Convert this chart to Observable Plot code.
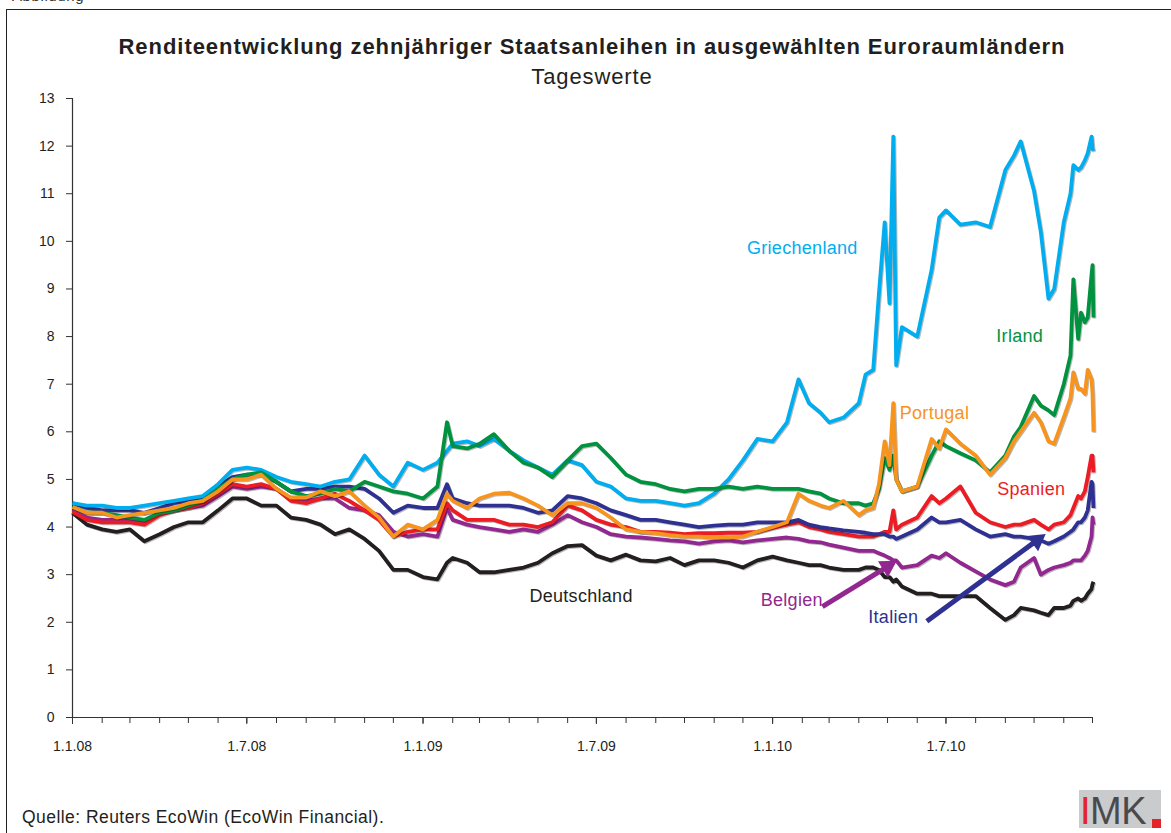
<!DOCTYPE html>
<html>
<head>
<meta charset="utf-8">
<script src="https://cdn.jsdelivr.net/npm/d3@7"></script>
<script src="https://cdn.jsdelivr.net/npm/@observablehq/plot@0.6"></script>
<style>
  html, body { margin: 0; padding: 0; background: #fff; }
  body { width: 1171px; height: 833px; overflow: hidden; position: relative; font-family: "Liberation Sans", Arial, sans-serif; color: #231f20; }
  #frame { position: absolute; left: 6px; top: 9px; width: 1200px; height: 900px; border-left: 1.5px solid #222; border-top: 1.5px solid #222; }
  #cut { position: absolute; left: 12px; top: -13px; font-size: 15px; letter-spacing: 0.6px; color: #333; }
  #title { position: absolute; left: 12px; width: 1160px; top: 34px; text-align: center; font-size: 22px; letter-spacing: 0.95px; font-weight: bold; color: #231f20; }
  #subtitle { position: absolute; left: 12px; width: 1160px; top: 64px; text-align: center; font-size: 22px; letter-spacing: 0.9px; color: #231f20; }
  #chart { position: absolute; left: 0; top: 88px; }
  #chart g[aria-label="line"] { filter: drop-shadow(1px 1.2px 0.6px rgba(0,0,0,0.28)); }
  #source { position: absolute; left: 22px; top: 807px; font-size: 17.5px; letter-spacing: 0.45px; color: #231f20; }
  #logo { position: absolute; left: 1079px; top: 790px; width: 82px; height: 38px; background: #c9cbcd; }
  #logo .mk { position: absolute; left: 1px; top: 2px; font-size: 38px; line-height: 38px; letter-spacing: -0.5px; color: #4a4a4c; white-space: nowrap; }
  #logo .mk b { font-weight: normal; color: #e3242b; }
  #logo .dot { position: absolute; right: 0; bottom: 0; width: 9px; height: 9px; background: #e3242b; }
</style>
</head>
<body>
<div id="frame"></div>
<div id="cut">Abbildung</div>
<div id="title">Renditeentwicklung zehnjähriger Staatsanleihen in ausgewählten Euroraumländern</div>
<div id="subtitle">Tageswerte</div>
<div id="chart"></div>
<div id="source">Quelle: Reuters EcoWin (EcoWin Financial).</div>
<div id="logo"><span class="mk"><b>I</b>MK</span><span class="dot"></span></div>
<script>
// ---- Data ----
const dates = [
  // 2008
  "2008-01-01","2008-01-16","2008-02-01","2008-02-16","2008-03-01","2008-03-16","2008-04-01","2008-04-16",
  "2008-05-01","2008-05-16","2008-06-01","2008-06-16","2008-07-01","2008-07-16","2008-08-01","2008-08-16",
  "2008-09-01","2008-09-16","2008-10-01","2008-10-16","2008-11-01","2008-11-16","2008-12-01","2008-12-16",
  // 2009
  "2009-01-01","2009-01-16","2009-01-26","2009-02-01","2009-02-16","2009-03-01","2009-03-16","2009-04-01",
  "2009-04-16","2009-05-01","2009-05-16","2009-06-01","2009-06-16","2009-07-01","2009-07-16","2009-08-01",
  "2009-08-16","2009-09-01","2009-09-16","2009-10-01","2009-10-16","2009-11-01","2009-11-16","2009-12-01","2009-12-16",
  // 2010
  "2010-01-01","2010-01-16","2010-01-28","2010-02-08","2010-02-20","2010-03-01","2010-03-16","2010-04-01",
  "2010-04-08","2010-04-16","2010-04-22","2010-04-28","2010-05-03","2010-05-07","2010-05-10","2010-05-16",
  "2010-06-01","2010-06-16","2010-06-24","2010-07-01","2010-07-16","2010-08-01","2010-08-16","2010-09-01",
  "2010-09-10","2010-09-17","2010-10-01","2010-10-08","2010-10-16","2010-10-22","2010-11-01","2010-11-08",
  "2010-11-11","2010-11-16","2010-11-19","2010-11-23","2010-11-26","2010-11-30","2010-12-01","2010-12-02"
];

const griechenland = [
  4.5,4.45,4.45,4.4,4.4,4.45,4.5,4.55,4.6,4.65,4.9,5.2,5.25,5.2,5.05,4.95,4.9,4.85,4.95,5.0,5.5,5.1,4.85,5.35,
  5.2,5.35,5.6,5.75,5.8,5.7,5.85,5.6,5.4,5.25,5.1,5.4,5.3,4.95,4.85,4.6,4.55,4.55,4.5,4.45,4.5,4.7,5.0,5.4,5.85,
  5.8,6.2,7.1,6.6,6.4,6.2,6.3,6.6,7.2,7.3,8.9,10.4,8.7,12.2,7.4,8.2,8.0,9.4,10.5,10.65,10.35,10.4,10.3,11.5,
  11.8,12.1,11.05,10.2,8.8,9.0,10.4,11.0,11.6,11.5,11.55,11.7,11.85,12.2,11.95,11.9
];
const irland = [
  4.42,4.3,4.3,4.25,4.2,4.15,4.3,4.35,4.45,4.55,4.8,5.0,5.1,5.15,4.95,4.75,4.65,4.7,4.8,4.75,4.95,4.85,4.75,4.7,
  4.6,4.85,6.2,5.7,5.65,5.75,5.95,5.6,5.35,5.25,5.05,5.4,5.7,5.75,5.45,5.1,4.95,4.9,4.8,4.75,4.8,4.8,4.85,4.8,4.85,
  4.8,4.8,4.8,4.75,4.7,4.6,4.5,4.5,4.45,4.5,4.8,5.45,5.2,5.5,5.0,4.75,4.85,5.5,5.8,5.7,5.55,5.4,5.15,5.5,
  5.9,6.1,6.75,6.55,6.45,6.35,7.0,7.6,9.2,7.95,8.5,8.3,8.4,9.3,9.5,8.4
];
const portugal = [
  4.42,4.3,4.3,4.2,4.25,4.3,4.35,4.4,4.5,4.55,4.75,5.0,5.0,5.1,4.8,4.62,4.62,4.75,4.65,4.75,4.45,4.2,3.8,4.05,
  3.95,4.15,4.7,4.55,4.4,4.6,4.7,4.72,4.6,4.45,4.25,4.5,4.5,4.4,4.2,3.95,3.9,3.87,3.83,3.8,3.8,3.78,3.78,3.8,3.9,
  4.0,4.1,4.7,4.55,4.45,4.4,4.55,4.25,4.35,4.4,4.9,5.8,5.3,6.6,5.0,4.75,4.85,5.85,5.65,6.05,5.75,5.5,5.1,5.45,
  5.8,6.0,6.4,6.2,5.8,5.75,6.3,6.7,7.25,6.9,6.9,6.8,7.3,7.1,6.8,6.0
];
const spanien = [
  4.32,4.15,4.1,4.1,4.1,4.05,4.25,4.35,4.4,4.5,4.7,4.9,4.85,4.9,4.8,4.55,4.5,4.6,4.7,4.55,4.35,4.15,3.8,3.9,
  3.95,3.95,4.5,4.35,4.15,4.15,4.15,4.05,4.05,4.0,4.1,4.45,4.35,4.15,4.05,4.0,3.9,3.9,3.88,3.85,3.87,3.87,3.88,3.88,3.9,
  3.98,4.05,4.1,4.0,3.95,3.9,3.85,3.8,3.8,3.8,3.85,3.9,3.9,4.35,3.95,4.05,4.2,4.65,4.5,4.6,4.85,4.3,4.1,4.0,
  4.05,4.05,4.15,4.05,3.95,4.05,4.1,4.25,4.4,4.65,4.6,4.75,5.05,5.5,5.5,5.15
];
const italien = [
  4.5,4.4,4.35,4.35,4.35,4.3,4.4,4.5,4.55,4.6,4.85,5.05,5.1,5.1,4.95,4.75,4.8,4.8,4.85,4.85,4.8,4.6,4.3,4.45,
  4.4,4.4,4.9,4.6,4.5,4.45,4.45,4.45,4.4,4.3,4.35,4.65,4.6,4.5,4.35,4.25,4.15,4.15,4.1,4.05,4.0,4.03,4.05,4.05,4.1,
  4.1,4.1,4.15,4.05,4.0,3.97,3.93,3.9,3.88,3.85,3.85,3.85,3.8,3.8,3.75,3.8,3.95,4.2,4.1,4.1,4.15,3.95,3.8,3.85,
  3.8,3.8,3.75,3.72,3.65,3.7,3.8,3.9,3.95,4.1,4.1,4.2,4.35,4.95,4.9,4.4
];
const belgien = [
  4.35,4.2,4.15,4.15,4.15,4.1,4.3,4.35,4.4,4.45,4.65,4.85,4.8,4.85,4.8,4.6,4.55,4.6,4.6,4.4,4.35,4.25,3.9,3.8,
  3.85,3.8,4.4,4.15,4.05,4.0,3.95,3.9,3.95,3.9,4.05,4.25,4.1,4.0,3.85,3.8,3.78,3.75,3.72,3.7,3.65,3.7,3.72,3.68,3.72,
  3.75,3.78,3.75,3.7,3.68,3.63,3.57,3.5,3.5,3.5,3.45,3.4,3.35,3.3,3.3,3.15,3.2,3.4,3.35,3.45,3.25,3.07,2.9,2.78,
  2.85,3.15,3.35,3.0,3.1,3.15,3.2,3.25,3.3,3.3,3.3,3.4,3.5,3.8,4.2,4.05
];
const deutschland = [
  4.3,4.05,3.95,3.9,3.95,3.7,3.85,4.0,4.1,4.1,4.35,4.6,4.6,4.45,4.45,4.2,4.15,4.05,3.85,3.95,3.75,3.5,3.1,3.1,
  2.95,2.9,3.25,3.35,3.25,3.05,3.05,3.1,3.15,3.25,3.45,3.6,3.62,3.4,3.3,3.42,3.3,3.28,3.35,3.2,3.3,3.3,3.25,3.15,3.3,
  3.38,3.3,3.25,3.2,3.2,3.15,3.1,3.1,3.15,3.15,3.1,2.95,2.95,2.85,2.9,2.75,2.6,2.6,2.55,2.55,2.55,2.55,2.3,2.05,
  2.15,2.3,2.25,2.2,2.15,2.3,2.3,2.35,2.45,2.5,2.45,2.5,2.6,2.7,2.8,2.85
];

// Series (draw order: first = bottom)
const seriesNames  = ["Deutschland","Belgien","Spanien","Italien","Griechenland","Irland","Portugal"];
const seriesValues = [deutschland, belgien, spanien, italien, griechenland, irland, portugal];
const seriesColors = ["#231f20","#92278f","#ed1c24","#2e3192","#00aeef","#00923f","#f7941d"];

// Direct labels
const labelNames  = ["Griechenland","Irland","Portugal","Spanien","Deutschland","Belgien","Italien"];
const labelDates  = ["2010-02-01","2010-09-16","2010-06-19","2010-09-28","2009-06-15","2010-01-21","2010-05-07"];
const labelValues = [9.85, 8.0, 6.38, 4.8, 2.54, 2.46, 2.1];
const labelColors = ["#00aeef","#00923f","#f7941d","#ed1c24","#231f20","#92278f","#2e3192"];

// Arrows (Belgien, Italien)
const arrowFromDates = ["2010-02-22","2010-06-11"];
const arrowFromValues = [2.33, 2.02];
const arrowToDates = ["2010-05-01","2010-10-04"];
const arrowToValues = [3.17, 3.72];
const arrowColors = ["#92278f","#2e3192"];

// Axis ticks
const yTicks = [0,1,2,3,4,5,6,7,8,9,10,11,12,13];
const xLabelTicks = ["1.1.08","1.7.08","1.1.09","1.7.09","1.1.10","1.7.10"];

// ---- Build ----
const parse = s => new Date(s + "T00:00:00Z");
const xDomain = [parse("2008-01-01"), parse("2010-12-01")];
const monthTicks = d3.utcMonths(parse("2008-01-01"), parse("2010-12-02"));
const labelTickDates = xLabelTicks.map(s => {
  const [d, m, y] = s.split(".").map(Number);
  return new Date(Date.UTC(2000 + y, m - 1, d));
});
const fmt = d => `${d.getUTCDate()}.${d.getUTCMonth() + 1}.${String(d.getUTCFullYear()).slice(2)}`;

const W = 1171, H = 682, mL = 72, mR = 79, mT = 10, mB = 53;

const rows = [];
seriesNames.forEach((name, i) => {
  if (seriesValues[i].length !== dates.length) console.error(name, seriesValues[i].length, dates.length);
  seriesValues[i].forEach((v, j) => rows.push({land: name, date: parse(dates[j]), value: v}));
});
const labels = labelNames.map((t, i) => ({text: t, date: parse(labelDates[i]), value: labelValues[i], color: labelColors[i]}));

const xs = Plot.scale({x: {type: "utc", domain: xDomain, range: [mL, W - mR]}});
const ys = Plot.scale({y: {type: "linear", domain: [0, 13], range: [H - mB, mT]}});
const arrows = arrowColors.map((c, i) => {
  const x1 = parse(arrowFromDates[i]), x2 = parse(arrowToDates[i]);
  const y1 = arrowFromValues[i], y2 = arrowToValues[i];
  const dx = xs.apply(x2) - xs.apply(x1), dy = ys.apply(y2) - ys.apply(y1);
  const ang = Math.atan2(dy, dx) * 180 / Math.PI;
  return {x1, y1, x2, y2, color: c, rotate: ang + 90};
});

const marks = [
  Plot.ruleY([0], {stroke: "#333", strokeWidth: 1.2}),
  Plot.ruleX([xDomain[0]], {y1: 0, y2: 13, stroke: "#333", strokeWidth: 1.2}),
  Plot.axisY({ticks: yTicks, tickSize: 6, tickPadding: 12, fontSize: 14, label: null, stroke: "#333", fill: "#231f20"}),
  Plot.axisX({ticks: monthTicks, tickSize: 6, fill: "none", label: null, stroke: "#333"}),
  Plot.axisX({ticks: labelTickDates, tickSize: 7, tickPadding: 17, tickFormat: fmt, fontSize: 14, label: null, stroke: "#333", fill: "#231f20"}),
  ...seriesNames.map((name, i) => Plot.line(rows.filter(r => r.land === name), {
    x: "date", y: "value", stroke: seriesColors[i], strokeWidth: 3.8, strokeLinejoin: "round", strokeLinecap: "butt"
  })),
  Plot.link(arrows, {x1: "x1", y1: "y1", x2: "x2", y2: "y2", stroke: "color", strokeWidth: 5}),
  Plot.dot(arrows, {x: "x2", y: "y2", symbol: "triangle", r: 7, fill: "color", stroke: "none", rotate: "rotate"}),
  Plot.text(labels, {x: "date", y: "value", text: "text", fill: "color", fontSize: 18})
];

const chart = Plot.plot({
  width: W, height: H,
  marginLeft: mL, marginRight: mR, marginTop: mT, marginBottom: mB,
  style: {fontFamily: "'Liberation Sans', Arial, sans-serif", background: "transparent", overflow: "visible"},
  x: {type: "utc", domain: xDomain},
  y: {domain: [0, 13]},
  marks
});
chart.querySelectorAll('g[aria-label="text"] text').forEach(t => t.style.letterSpacing = "0.3px");
document.getElementById("chart").appendChild(chart);
</script>
</body>
</html>
